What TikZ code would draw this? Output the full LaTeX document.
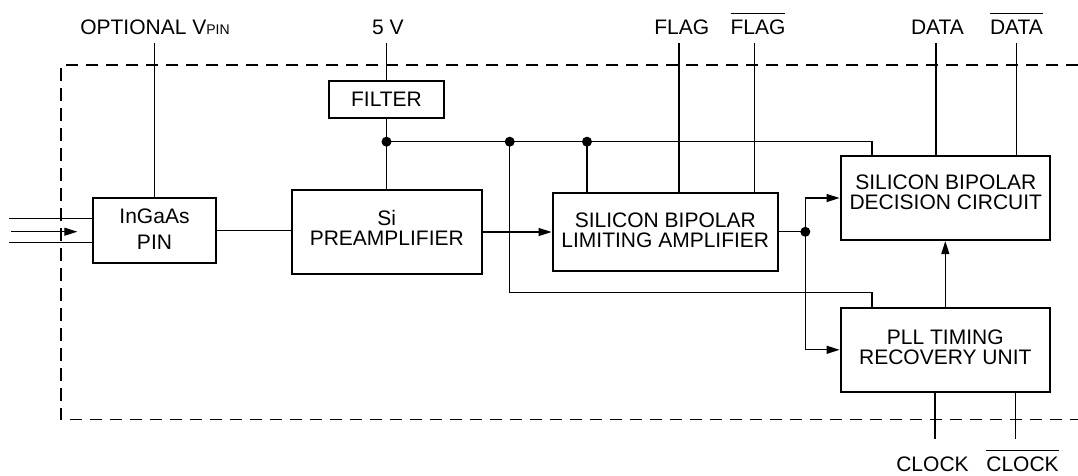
\documentclass[tikz,border=0pt]{standalone}
\usepackage{fontspec}
\setmainfont{Liberation Sans}
\usetikzlibrary{arrows.meta}
\newcommand\ovl[1]{\leavevmode\vbox{\hrule height 1.6pt \kern 5.2pt \hbox{#1}}}
\begin{document}
\begin{tikzpicture}[x=1pt,y=-1pt,
  box/.style={draw,line width=2.2pt,inner sep=0pt},
  txt/.style={align=center,inner sep=0pt,font=\fontsize{21}{20}\selectfont},
  lbl/.style={anchor=base,inner sep=0pt,font=\fontsize{21}{20}\selectfont},
  wire/.style={line width=1.2pt},
  arr/.style={line width=1.2pt,-{Triangle[length=13pt,width=8pt]}},
  dot/.style={circle,fill,inner sep=0pt,minimum size=10pt},
  frame/.style={line width=1.5pt,dash pattern=on 12.5pt off 7.5pt}]
\useasboundingbox (0,0) rectangle (1078,475);
% frame
\draw[frame] (1078,65) -- (61,65) -- (61,419.3) -- (1078,419.3);
% boxes
\node[box,minimum width=123pt,minimum height=65pt] (pin) at (154.5,230.5) {};
\node[txt,font=\fontsize{21}{26}\selectfont] (pint) at (154.5,229.5) {InGaAs\\PIN};
\node[box,minimum width=189.7pt,minimum height=84pt] (pre) at (386.8,232) {};
\node[txt] (pret) at (386.8,227.5) {Si\\PREAMPLIFIER};
\node[box,minimum width=115pt,minimum height=37pt] (fil) at (386.5,99.5) {};
\node[txt] (filt) at (386.5,99.5) {FILTER};
\node[box,minimum width=225.3pt,minimum height=77.7pt] (lim) at (665.3,231.8) {};
\node[txt] (limt) at (665.3,230) {SILICON BIPOLAR\\LIMITING AMPLIFIER};
\node[box,minimum width=209.3pt,minimum height=84pt] (dec) at (945.3,198) {};
\node[txt] (dect) at (945.8,192.5) {SILICON BIPOLAR\\DECISION CIRCUIT};
\node[box,minimum width=209.3pt,minimum height=83.7pt] (pll) at (945.3,349.8) {};
\node[txt] (pllt) at (945.3,347) {PLL TIMING\\RECOVERY UNIT};
% labels
\node[lbl] (lvpin) at (155,34) {OPTIONAL V{\fontsize{14}{14}\selectfont PIN}};
\node[lbl] (l5v) at (387.8,34) {5 V};
\node[lbl] (lflag) at (681.7,34) {FLAG};
\node[lbl] (lflagb) at (758,34) {\ovl{FLAG}};
\node[lbl] (ldata) at (937.5,34) {DATA};
\node[lbl] (ldatab) at (1016.5,34) {\ovl{DATA}};
\node[lbl] (lclk) at (932.5,471) {CLOCK};
\node[lbl] (lclkb) at (1022.5,471) {\ovl{CLOCK}};
% terminal coordinates
\coordinate (tvpin) at (154.5,43);
\coordinate (t5v) at (386.5,43);
\coordinate (tflag) at (679,43);
\coordinate (tflagb) at (754.7,43);
\coordinate (tdata) at (936,43);
\coordinate (tdatab) at (1016.3,43);
\coordinate (tclk) at (935,439);
\coordinate (tclkb) at (1015.3,439);
% input fibre lines
\coordinate (in1) at (9,218.7);
\coordinate (in2) at (11,231.7);
\coordinate (in2e) at (77.3,231.7);
\coordinate (in3) at (9,242.7);
\draw[wire] (in1) -- (in1 -| pin.west);
\draw[wire] (in3) -- (in3 -| pin.west);
\draw[arr] (in2) -- (in2e);
% junctions
\coordinate (j1) at (386.5,141.7);
\coordinate (j2) at (509.7,141.7);
\coordinate (j3) at (587,141.7);
\coordinate (busend) at (872,141.7);
\coordinate (loop) at (509.7,292.3);
\coordinate (loopend) at (872,292.3);
\coordinate (j4) at (805.3,231.8);
% wires
\draw[wire] (tvpin) -- (pin.north);
\draw[wire] (t5v) -- (fil.north);
\draw[wire] (fil.south) -- (j1) -- (j1 |- pre.north);
\draw[wire] (j1) -- (busend) -- (busend |- dec.north);
\draw[wire] (j2) -- (loop) -- (loopend) -- (loopend |- pll.north);
\draw[wire] (j3) -- (j3 |- lim.north);
\draw[wire] (tflag) -- (tflag |- lim.north);
\draw[wire] (tflagb) -- (tflagb |- lim.north);
\draw[wire] (tdata) -- (tdata |- dec.north);
\draw[wire] (tdatab) -- (tdatab |- dec.north);
\draw[wire] (tclk) -- (tclk |- pll.south);
\draw[wire] (tclkb) -- (tclkb |- pll.south);
\draw[wire] (pin.east) -- (pin.east -| pre.west);
\draw[arr] (pre.east) -- (pre.east -| lim.west);
\draw[wire] (lim.east) -- (j4);
\draw[arr] (j4) |- (dec.west);
\draw[arr] (j4) |- (pll.west);
\draw[arr] (pll.north) -- (dec.south);
% dots
\node[dot] (d1) at (j1) {};
\node[dot] (d2) at (j2) {};
\node[dot] (d3) at (j3) {};
\node[dot] (d4) at (j4) {};
\end{tikzpicture}
\end{document}
